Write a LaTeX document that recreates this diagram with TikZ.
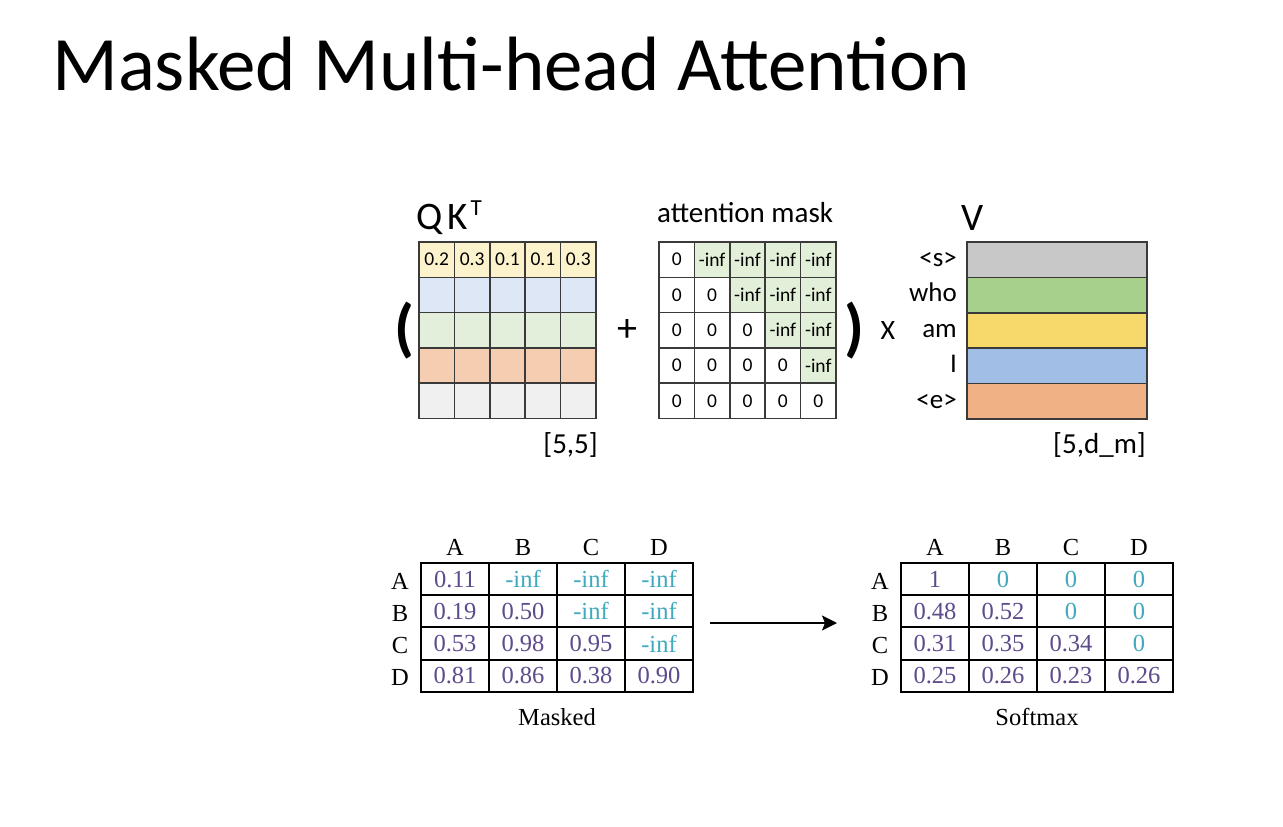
\documentclass[tikz,border=0pt]{standalone}
\usepackage{fontspec}
\setmainfont{Carlito}
\newfontfamily\timesf{Liberation Serif}
\usetikzlibrary{arrows.meta}
\definecolor{qkA}{HTML}{FCF2CC}
\definecolor{qkB}{HTML}{DEE7F5}
\definecolor{qkC}{HTML}{E3EFDA}
\definecolor{qkD}{HTML}{F5CDB0}
\definecolor{qkE}{HTML}{F0F0F0}
\definecolor{maskg}{HTML}{E2EFD9}
\definecolor{vA}{HTML}{C8C8C8}
\definecolor{vB}{HTML}{A8D08D}
\definecolor{vC}{HTML}{F7D86A}
\definecolor{vD}{HTML}{A1BFE6}
\definecolor{vE}{HTML}{F0B285}
\definecolor{gridc}{HTML}{3A3A3A}
\definecolor{purpT}{HTML}{5E4B8B}
\definecolor{cyanT}{HTML}{3FA9C0}
\begin{document}
\begin{tikzpicture}[x=1pt,y=-1pt,
  qcell/.style={draw=gridc, line width=1.5pt, minimum width=35.4pt, minimum height=35.3pt, inner sep=0pt, font=\fontsize{19.5}{19.5}\selectfont},
  vrow/.style={draw=gridc, line width=1.5pt, minimum width=180pt, minimum height=35.4pt, inner sep=0pt},
  vlab/.style={anchor=base east, inner sep=0pt, font=\fontsize{27}{27}\selectfont},
  toplab/.style={inner sep=0pt},
  mcell/.style={draw=black, line width=2pt, minimum width=68pt, minimum height=32.25pt, inner sep=0pt, font=\timesf\fontsize{24.5}{24.5}\selectfont},
  tlab/.style={anchor=base, inner sep=0pt, font=\timesf\fontsize{24.5}{24.5}\selectfont},
  flow/.style={line width=1.6pt, -{Stealth[length=15pt, width=15pt, inset=3pt]}}
]
\useasboundingbox[fill=white] (0,0) rectangle (1283,827);

% title
\node[anchor=base west, inner sep=0pt] (title) at (52,90) {\fontsize{77}{90}\selectfont Masked Multi-head Attention};

% QK^T matrix
\node[toplab, anchor=base west] (qkt) at (416,229) {\fontsize{39}{40}\selectfont Q\kern5pt K\kern3pt\raisebox{14pt}{\fontsize{23}{24}\selectfont T}};
\foreach \c/\v in {0/0.2,1/0.3,2/0.1,3/0.1,4/0.3}
  \node[qcell, fill=qkA] (qk-0-\c) at ({436.7+35.4*\c},259.65) {\v};
\foreach \r/\col in {1/qkB,2/qkC,3/qkD,4/qkE}
  \foreach \c in {0,...,4}
    \node[qcell, fill=\col] (qk-\r-\c) at ({436.7+35.4*\c},{259.65+35.3*\r}) {};
\node[toplab, anchor=base east] (qkdim) at (598,453) {\fontsize{29}{30}\selectfont [5,5]};

% parentheses and operators
\node[toplab] (lpar) at (404,331) {\fontsize{64}{64}\selectfont\bfseries (};
\node[toplab] (plus) at (627,331) {\fontsize{40}{40}\selectfont +};
\node[toplab] (rpar) at (854,331) {\fontsize{64}{64}\selectfont\bfseries )};
\node[toplab, anchor=base] (times) at (888,339) {\fontsize{28}{28}\selectfont X};

% attention mask
\node[toplab, anchor=base west] (masklab) at (657,222) {\fontsize{29}{30}\selectfont attention mask};
\foreach \r in {0,...,4}
  \foreach \c in {0,...,4}{
    \ifnum\c>\r
      \node[qcell, fill=maskg] (mk-\r-\c) at ({676.7+35.4*\c},{259.65+35.3*\r}) {-inf};
    \else
      \node[qcell, fill=white] (mk-\r-\c) at ({676.7+35.4*\c},{259.65+35.3*\r}) {0};
    \fi
  }

% V matrix
\node[toplab, anchor=base] (vlabel) at (973,230) {\fontsize{39}{40}\selectfont V};
\foreach \r/\col in {0/vA,1/vB,2/vC,3/vD,4/vE}
  \node[vrow, fill=\col] (v-\r) at (1057,{259.7+35.4*\r}) {};
\foreach \r/\t in {0/{<s>},1/who,2/am,3/I,4/{<e>}}
  \node[vlab] (vl-\r) at (957,{266.5+35.4*\r}) {\t};
\node[toplab, anchor=base east] (vdim) at (1146,453) {\fontsize{29}{30}\selectfont [5,d\_m]};

% Masked table
\foreach \c/\h in {0/A,1/B,2/C,3/D}{
  \node[tlab] (mh-\c) at ({455+68*\c},555) {\h};
  \node[tlab] (mr-\c) at (400,{589+32.25*\c}) {\h};
}
\foreach \r/\c/\v in {0/0/0.11,0/1/-inf,0/2/-inf,0/3/-inf,
                      1/0/0.19,1/1/0.50,1/2/-inf,1/3/-inf,
                      2/0/0.53,2/1/0.98,2/2/0.95,2/3/-inf,
                      3/0/0.81,3/1/0.86,3/2/0.38,3/3/0.90}{
  \ifnum\c>\r \def\tc{cyanT}\else\def\tc{purpT}\fi
  \node[mcell, text=\tc] (ms-\r-\c) at ({455+68*\c},{579.1+32.25*\r}) {\v};
}
\node[tlab] (mcap) at (557,725) {Masked};

% Softmax table
\foreach \c/\h in {0/A,1/B,2/C,3/D}{
  \node[tlab] (sh-\c) at ({935+68*\c},555) {\h};
  \node[tlab] (sr-\c) at (880,{589+32.25*\c}) {\h};
}
\foreach \r/\c/\v in {0/0/1,0/1/0,0/2/0,0/3/0,
                      1/0/0.48,1/1/0.52,1/2/0,1/3/0,
                      2/0/0.31,2/1/0.35,2/2/0.34,2/3/0,
                      3/0/0.25,3/1/0.26,3/2/0.23,3/3/0.26}{
  \ifnum\c>\r \def\tc{cyanT}\else\def\tc{purpT}\fi
  \node[mcell, text=\tc] (sm-\r-\c) at ({935+68*\c},{579.1+32.25*\r}) {\v};
}
\node[tlab] (scap) at (1037,725) {Softmax};

% arrow
\coordinate (arrS) at (710,623);
\coordinate (arrE) at (837,623);
\draw[flow] (arrS) -- (arrE);
\end{tikzpicture}
\end{document}
